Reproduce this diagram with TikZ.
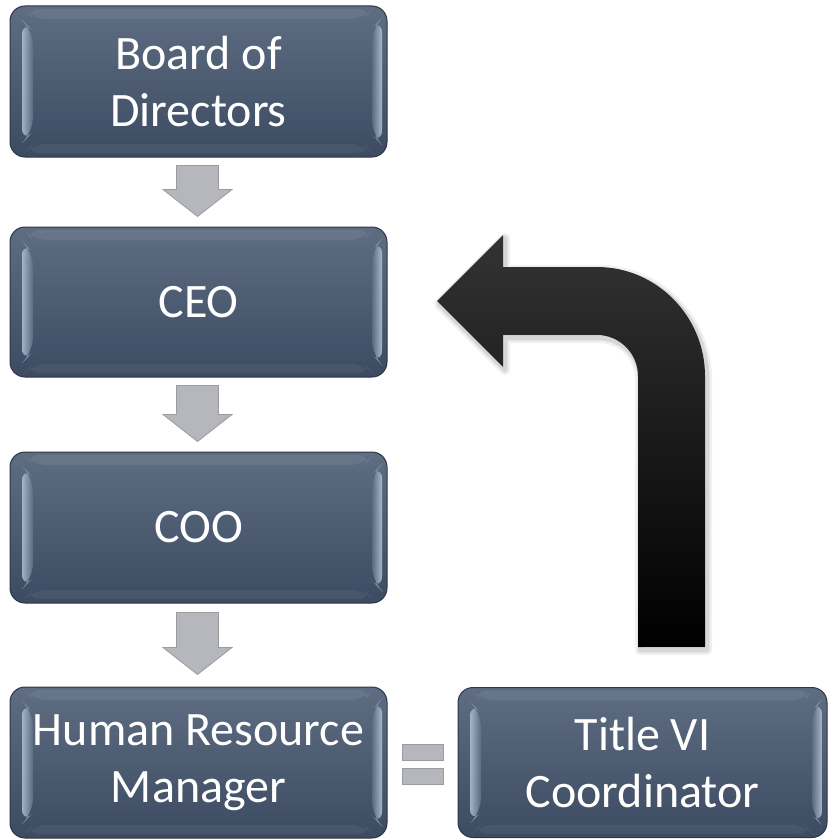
\documentclass[tikz,border=0pt]{standalone}
\usepackage{fontspec}
\setmainfont{Carlito}
\usetikzlibrary{calc}
\definecolor{boxtop}{HTML}{5E6D82}
\definecolor{boxbot}{HTML}{3C4B61}
\definecolor{boxedge}{HTML}{2E3846}
\definecolor{arrowgray}{HTML}{B5B7BC}
\definecolor{arrowedge}{HTML}{9A9CA1}
\definecolor{bevellight}{HTML}{B2C1D6}
\newcommand\bevelparts{%
  \fill[white, opacity=0.07] ($(path picture bounding box.north west)+(14,3)$) -- ($(path picture bounding box.north east)+(-14,3)$) -- ($(path picture bounding box.north east)+(-22,13)$) -- ($(path picture bounding box.north west)+(22,13)$) -- cycle;
  \shade[left color=bevellight, right color=boxtop, opacity=0.85] ($(path picture bounding box.north west)+(12,14)$) -- ($(path picture bounding box.north west)+(23,25)$) -- ($(path picture bounding box.south west)+(23,-25)$) -- ($(path picture bounding box.south west)+(12,-14)$) -- cycle;
  \shade[left color=boxtop, right color=bevellight, opacity=0.9] ($(path picture bounding box.north east)+(-5,12)$) -- ($(path picture bounding box.north east)+(-15,22)$) -- ($(path picture bounding box.south east)+(-15,-22)$) -- ($(path picture bounding box.south east)+(-5,-12)$) -- cycle;
  \fill[white, opacity=0.05] ($(path picture bounding box.south west)+(22,-13)$) -- ($(path picture bounding box.south east)+(-22,-13)$) -- ($(path picture bounding box.south east)+(-14,-4)$) -- ($(path picture bounding box.south west)+(14,-4)$) -- cycle;
}
\tikzset{
  orgbox/.style={rectangle, rounded corners=15pt, draw=boxedge, line width=1pt,
    top color=boxtop, bottom color=boxbot, text=white,
    font=\fontsize{48}{57}\selectfont, align=center, inner sep=0pt,
    minimum width=377pt, minimum height=151pt, path picture={\bevelparts}},
  blockfill/.style={fill=arrowgray, draw=arrowedge, line width=0.8pt, line join=miter},
}
\newcommand\blockarrow[4]{% from node, to node, top gap, bottom gap
  \coordinate (#1s) at ($(#1.south)+(-1,#3)$);
  \coordinate (#1e) at ($(#2.north)+(-1,-#4)$);
  \filldraw[blockfill] ($(#1s)+(-21,0)$) -- ($(#1s)+(21,0)$) -- ($(#1e)+(21,-27)$) -- ($(#1e)+(34.5,-27)$) -- (#1e) -- ($(#1e)+(-34.5,-27)$) -- ($(#1e)+(-21,-27)$) -- cycle;
}
\newcommand\turnpath{(638,647) -- (638,376) .. controls (638,353.4) and (619.6,335) .. (597,335) -- (503,335) -- (503,367) -- (437,301) -- (503,235) -- (503,267) -- (597,267) .. controls (656.6,267) and (705,316.4) .. (705,376) -- (705,647) -- cycle}
\begin{document}
\begin{tikzpicture}[x=1pt, y=-1pt]
\useasboundingbox (0,0) rectangle (828,840);
\fill[white] (0,0) rectangle (828,840);

\node[orgbox] (b1) at (198.5,81.5) {Board of\\Directors};
\node[orgbox, minimum height=150pt] (b2) at (198.5,302) {CEO};
\node[orgbox] (b3) at (198.5,527.5) {COO};
\node[orgbox] (b4) at (198.5,762.5) {Human Resource\\Manager};
\node[orgbox, minimum width=369pt, minimum height=150pt] (b5) at (642.5,762.5) {Title VI\\Coordinator};

\blockarrow{b1}{b2}{8}{10}
\blockarrow{b2}{b3}{8}{10}
\blockarrow{b3}{b4}{9}{12}

\coordinate (eq) at ($(b4.east)!0.5!(b5.west)$);
\filldraw[blockfill] ($(eq)+(-20.5,-18.5)$) rectangle ($(eq)+(20.5,-2.5)$);
\filldraw[blockfill] ($(eq)+(-20.5,5.5)$) rectangle ($(eq)+(20.5,21.5)$);

\begin{scope}[shift={(2,3)}]
\draw[black, opacity=0.06, line width=10pt, line join=round] \turnpath;
\draw[black, opacity=0.10, line width=5pt, line join=round] \turnpath;
\end{scope}
\shade[top color=black!80, middle color=black!97, bottom color=black] \turnpath;
\end{tikzpicture}
\end{document}
